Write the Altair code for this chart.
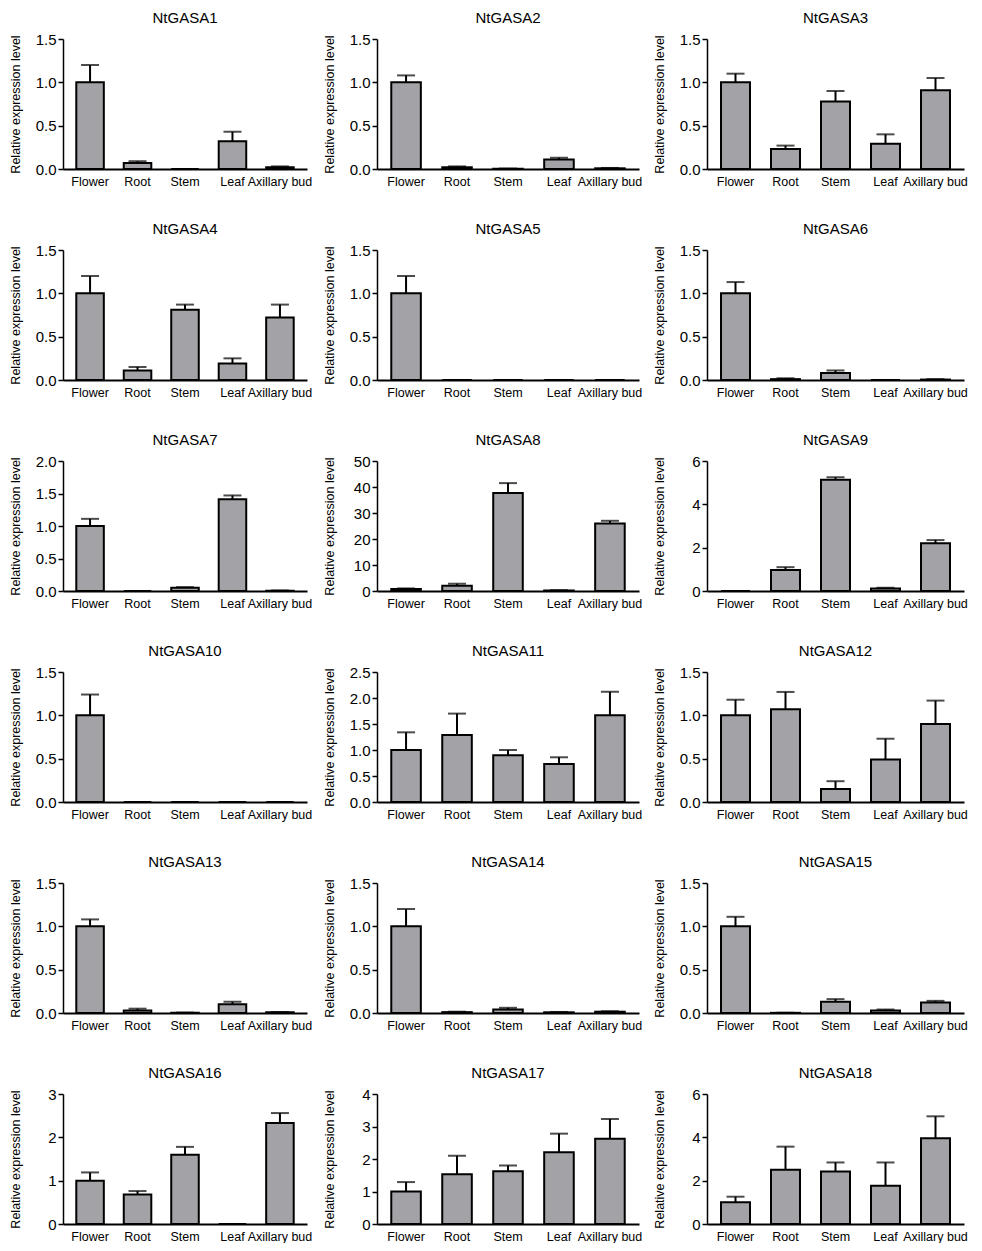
import altair as alt
import pandas as pd

genes = ["NtGASA1", "NtGASA2", "NtGASA3", "NtGASA4", "NtGASA5", "NtGASA6",
         "NtGASA7", "NtGASA8", "NtGASA9", "NtGASA10", "NtGASA11", "NtGASA12",
         "NtGASA13", "NtGASA14", "NtGASA15", "NtGASA16", "NtGASA17", "NtGASA18"]
tissues = ["Flower", "Root", "Stem", "Leaf", "Axillary bud"]

means = [
    [1.00, 0.07, 0.0, 0.32, 0.02],
    [1.00, 0.02, 0.003, 0.11, 0.008],
    [1.00, 0.23, 0.78, 0.29, 0.91],
    [1.00, 0.11, 0.81, 0.19, 0.72],
    [1.00, 0.0, 0.0, 0.0, 0.0],
    [1.00, 0.01, 0.08, 0.0, 0.005],
    [1.00, 0.0, 0.05, 1.41, 0.005],
    [0.8, 2.0, 37.7, 0.2, 26.0],
    [0.0, 0.97, 5.13, 0.12, 2.2],
    [1.00, 0.0, 0.0, 0.0, 0.0],
    [1.00, 1.29, 0.90, 0.73, 1.67],
    [1.00, 1.07, 0.15, 0.49, 0.90],
    [1.00, 0.03, 0.003, 0.10, 0.008],
    [1.00, 0.01, 0.04, 0.008, 0.015],
    [1.00, 0.002, 0.13, 0.03, 0.12],
    [1.00, 0.68, 1.60, 0.0, 2.33],
    [1.00, 1.53, 1.62, 2.21, 2.62],
    [1.00, 2.50, 2.42, 1.77, 3.96],
]
tops = [
    [1.20, 0.09, 0.0, 0.43, 0.03],
    [1.08, 0.03, 0.005, 0.13, 0.012],
    [1.10, 0.27, 0.90, 0.40, 1.05],
    [1.20, 0.15, 0.87, 0.25, 0.87],
    [1.20, 0.0, 0.0, 0.0, 0.0],
    [1.13, 0.02, 0.11, 0.0, 0.01],
    [1.11, 0.0, 0.06, 1.47, 0.008],
    [1.0, 2.8, 41.5, 0.3, 27.0],
    [0.0, 1.10, 5.25, 0.15, 2.35],
    [1.24, 0.0, 0.0, 0.0, 0.0],
    [1.34, 1.70, 1.00, 0.86, 2.12],
    [1.18, 1.27, 0.24, 0.73, 1.17],
    [1.08, 0.05, 0.005, 0.13, 0.01],
    [1.20, 0.015, 0.06, 0.012, 0.02],
    [1.11, 0.003, 0.16, 0.04, 0.14],
    [1.19, 0.76, 1.78, 0.0, 2.56],
    [1.29, 2.10, 1.80, 2.78, 3.23],
    [1.26, 3.57, 2.84, 2.84, 4.97],
]
y_max = [1.5, 1.5, 1.5, 1.5, 1.5, 1.5, 2.0, 50, 6, 1.5, 2.5, 1.5, 1.5, 1.5, 1.5, 3, 4, 6]
y_step = [0.5, 0.5, 0.5, 0.5, 0.5, 0.5, 0.5, 10, 2, 0.5, 0.5, 0.5, 0.5, 0.5, 0.5, 1, 1, 2]

FONT = "Liberation Sans"
col_widths = [244, 262, 257]
H = 130

panels = []
for i, g in enumerate(genes):
    W = col_widths[i % 3]
    df = pd.DataFrame({"tissue": tissues, "mean": means[i], "top": tops[i]})
    err = df[df["top"] > df["mean"]]
    n_ticks = int(round(y_max[i] / y_step[i]))
    ticks = [round(k * y_step[i], 3) for k in range(n_ticks + 1)]
    fmt = ".1f" if y_step[i] < 1 else "d"
    x = alt.X("tissue:N", sort=tissues, title=None,
              scale=alt.Scale(paddingInner=0.42, paddingOuter=0.28),
              axis=alt.Axis(labelAngle=0, labelAlign="center", ticks=False,
                            labelPadding=6, labelFontSize=12.5))
    yscale = alt.Scale(domain=[0, y_max[i]], nice=False)
    yaxis = alt.Axis(values=ticks, format=fmt, labelFontSize=15,
                     titleFontSize=12.5, titleFontWeight="normal",
                     titleX=-41, minExtent=52, maxExtent=52,
                     tickSize=5, labelPadding=2, labelOverlap=False)
    ytitle = "Relative expression level"
    y = alt.Y("mean:Q", title=ytitle, scale=yscale, axis=yaxis)
    bars = alt.Chart(df).mark_bar(fill="#a3a3a7", stroke="black",
                                  strokeWidth=2).encode(x=x, y=y)
    rule = alt.Chart(err).mark_rule(color="black", strokeWidth=2).encode(
        x=x, y=y, y2="top:Q")
    cap = alt.Chart(err).mark_tick(color="black", size=18, thickness=2).encode(
        x=x, y=alt.Y("top:Q", title=ytitle, scale=yscale, axis=yaxis))
    panel = alt.layer(rule, bars, cap).properties(
        width=W, height=H,
        title=alt.TitleParams(g, fontSize=15, fontWeight="normal",
                              font=FONT, offset=6))
    panels.append(panel)

rows = [alt.hconcat(*panels[r * 3:(r + 1) * 3], spacing=10) for r in range(6)]
chart = alt.vconcat(*rows, spacing=34).properties(
    padding={"top": 3, "left": 0, "right": 0, "bottom": 0}
).configure_view(
    stroke=None
).configure_axis(
    grid=False, domainColor="black", domainWidth=1.5, tickColor="black",
    tickWidth=1.5, labelColor="black", titleColor="black",
    labelFont=FONT, titleFont=FONT
).configure_axisX(domainWidth=2)

chart.save("out.html", embed_options={"renderer": "svg", "actions": False})
